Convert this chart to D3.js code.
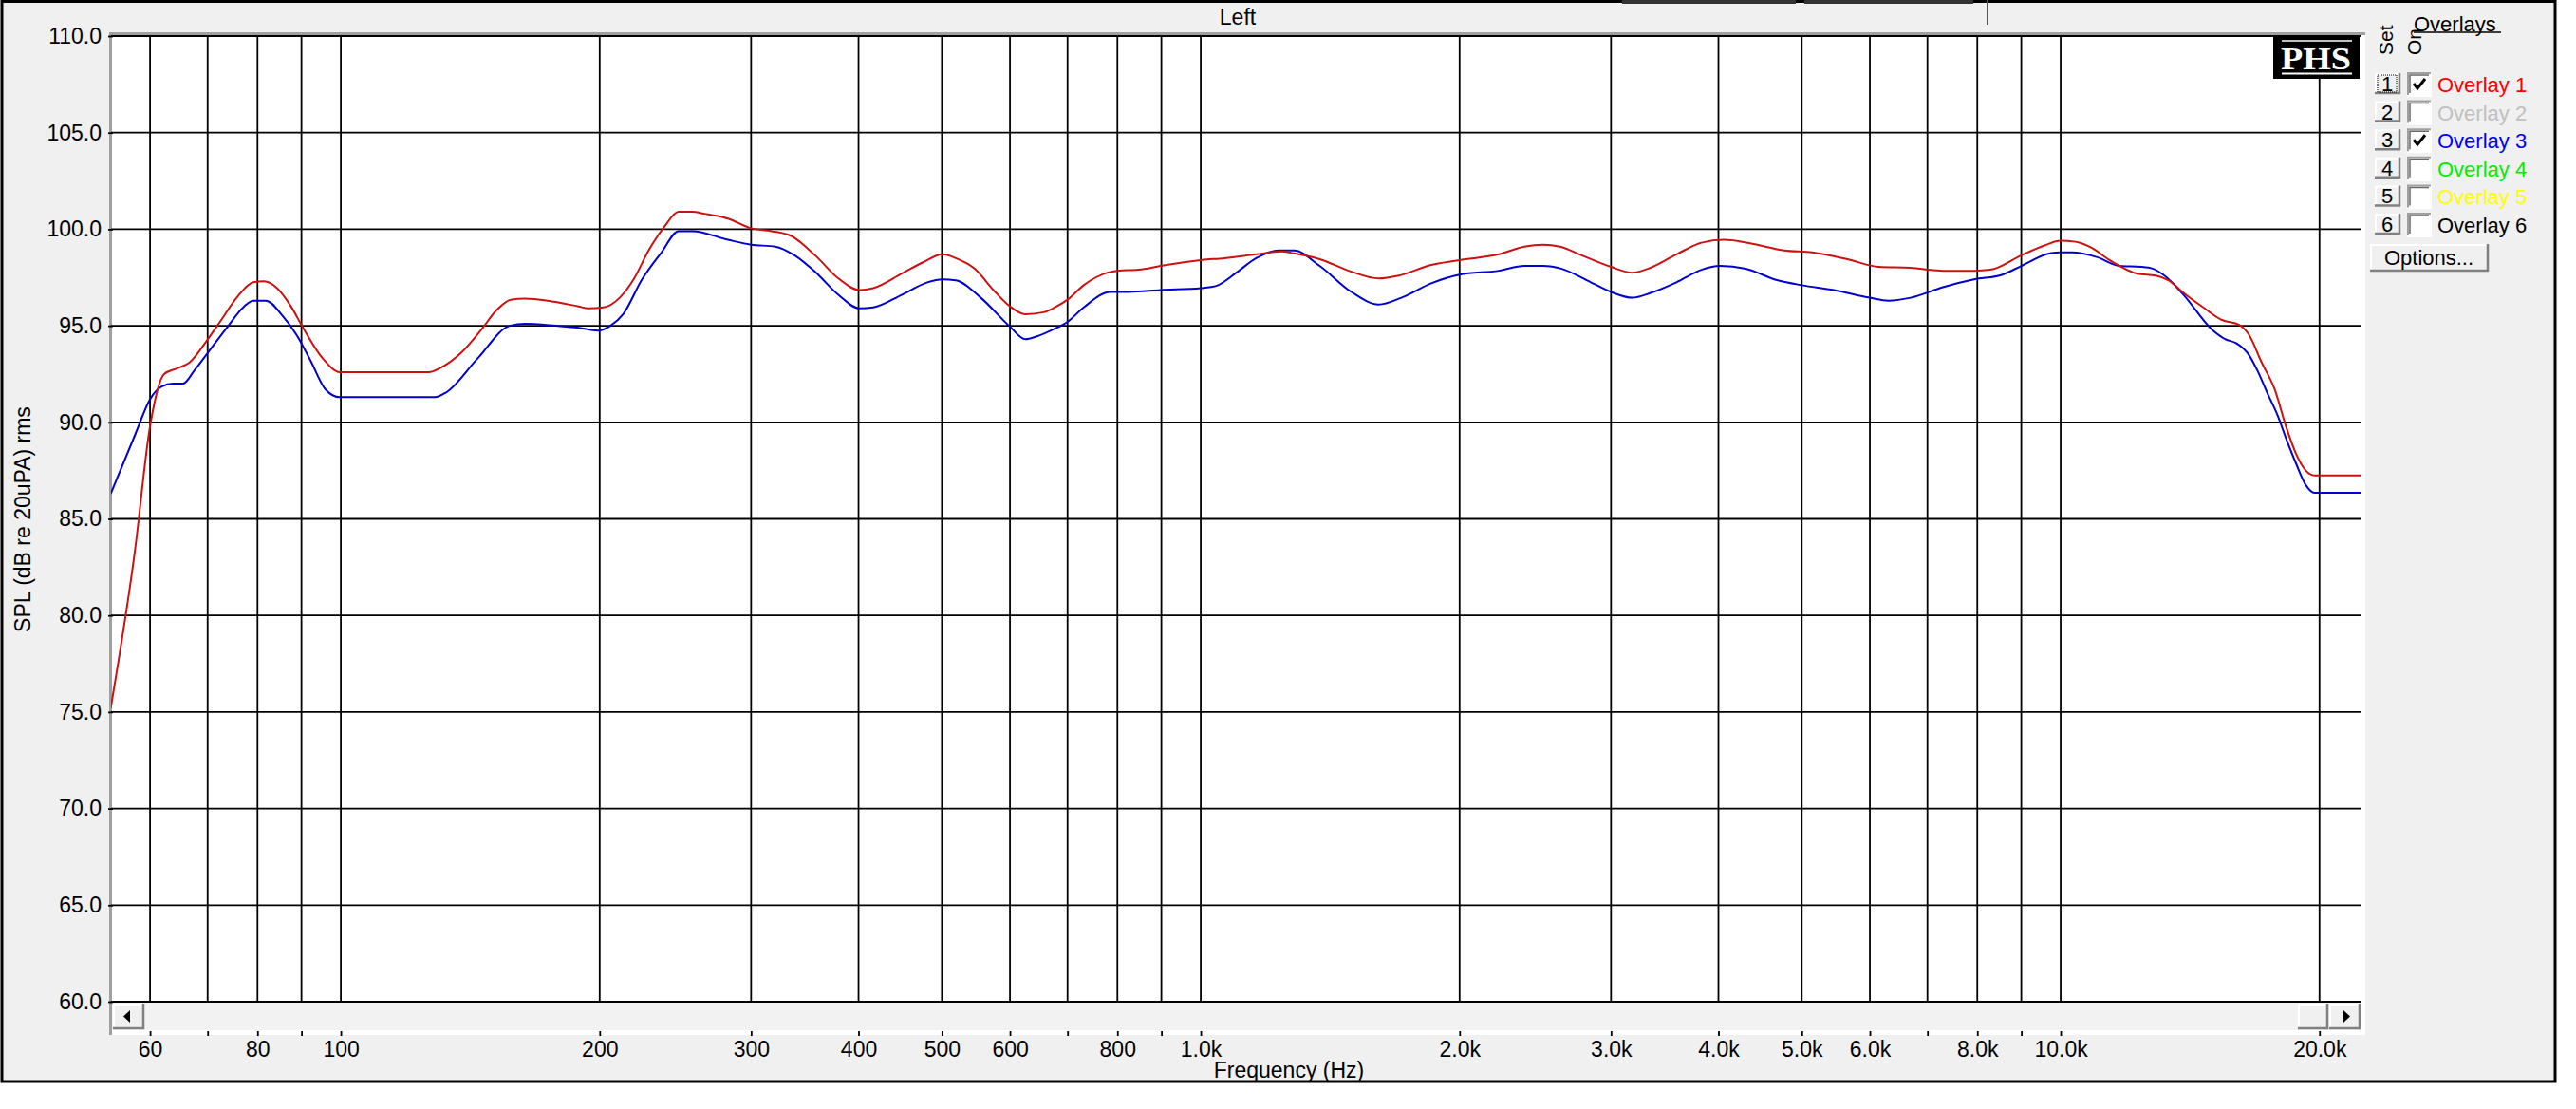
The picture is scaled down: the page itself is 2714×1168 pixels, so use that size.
<!DOCTYPE html>
<html>
<head>
<meta charset="utf-8">
<script src="https://cdn.jsdelivr.net/npm/d3@7/dist/d3.min.js"></script>
<style>
  html, body { margin: 0; padding: 0; background: #ffffff; }
  svg text { font-family: "Liberation Sans", Arial, sans-serif; }
</style>
</head>
<body>
<div id="chart"></div>
<script>
// Overlay 1 (red) - frequency in Hz and SPL in dB
const redFreq = [54, 57.6, 60, 62.3, 64.6, 66.7, 69.9, 72.6, 75.8, 79.1, 81.4, 84.3, 87.6, 90.1, 95.3, 99.7,
    126.7, 130.3, 138.4, 145.7, 151.7, 157.6, 163.7, 174, 189, 194, 202, 211, 219, 228, 238, 247, 256, 265,
    282, 300, 317, 334, 357, 379, 401, 416, 449, 476, 501, 519, 546, 574, 600, 625, 657, 673, 700, 731, 779,
    800, 847, 898, 1000, 1066, 1160, 1241, 1284, 1375, 1497, 1610, 1700, 1854, 2000, 2222, 2379, 2500, 2617,
    2772, 3000, 3175, 3310, 3575, 3822, 4058, 4381, 4768, 5143, 5647, 6145, 6690, 7296, 7930, 8280, 9000,
    9560, 10000, 10400, 10850, 11400, 12280, 12900, 13360, 13900, 14650, 15400, 16130, 16550, 17130, 17740,
    18310, 18770, 19280, 19730, 22400];
const redSpl = [75.2, 83.3, 89.8, 92.5, 92.8, 93.1, 94.25, 95.3, 96.5, 97.25, 97.3, 96.95, 95.97, 95.0, 93.3, 92.6,
    92.6, 92.8, 93.65, 94.8, 95.8, 96.35, 96.4, 96.3, 96.0, 95.9, 95.95, 96.45, 97.4, 98.9, 100.15, 100.9, 100.9, 100.8,
    100.55, 100.05, 99.9, 99.65, 98.6, 97.45, 96.85, 96.95, 97.7, 98.3, 98.7, 98.5, 97.95, 96.85, 96.0, 95.6, 95.7, 95.9, 96.35, 97.1, 97.75,
    97.85, 97.9, 98.1, 98.4, 98.5, 98.7, 98.85, 98.75, 98.45, 97.8, 97.45, 97.6, 98.15, 98.4, 98.7, 99.1, 99.2, 99.1,
    98.65, 98.05, 97.75, 97.95, 98.7, 99.3, 99.45, 99.25, 98.9, 98.8, 98.45, 98.05, 98.0, 97.85, 97.85, 97.9, 98.65,
    99.15, 99.4, 99.35, 99.05, 98.4, 97.7, 97.6, 97.35, 96.7, 95.95, 95.3, 95.05, 94.55, 93.1, 91.7,
    89.7, 88.4, 87.5, 87.25, 87.25];

// Overlay 3 (blue)
const blueFreq = [54, 57.7, 60, 61.9, 63.8, 65.5, 67.6, 69.9, 74, 77.2, 79.1, 81.8, 85.6, 88.9, 92.2, 96, 99.7,
    128.6, 132.6, 144.2, 157.2, 163.7, 178, 189, 199, 205.8, 213, 224, 236, 247, 256.5, 282, 300, 320, 337,
    357, 379, 401, 416, 449, 481, 501, 519, 555, 600, 625, 645, 673, 700, 731, 785, 825, 898, 1000, 1040,
    1100, 1160, 1233, 1284, 1375, 1497, 1610, 1711, 1854, 2000, 2222, 2379, 2500, 2630, 2814, 3000, 3175,
    3335, 3575, 3822, 4017, 4303, 4690, 5000, 5450, 6000, 6305, 6690, 7296, 7930, 8560, 9000, 9720, 10000,
    10300, 11030, 11700, 12410, 12810, 13160, 13900, 15000, 15550, 16000, 16550, 16950, 17400, 17880, 18310,
    18770, 19280, 19730, 22400];
const blueSpl = [86.3, 89.4, 91.2, 91.85, 92.0, 92.0, 92.7, 93.55, 95.0, 96.0, 96.3, 96.3, 95.5, 94.5, 93.2, 91.7, 91.3,
    91.3, 91.55, 93.3, 95.0, 95.1, 95.0, 94.9, 94.75, 95.0, 95.6, 97.4, 98.8, 99.9, 99.9, 99.45, 99.2, 99.1, 98.65,
    97.75, 96.6, 95.9, 95.95, 96.6, 97.25, 97.4, 97.35, 96.45, 94.95, 94.3, 94.45, 94.8, 95.2, 95.95, 96.75, 96.75, 96.85, 96.95, 97.05,
    97.75, 98.5, 98.9, 98.9, 98.1, 96.75, 96.1, 96.45, 97.2, 97.65, 97.85, 98.1, 98.1, 97.95, 97.35, 96.75, 96.45,
    96.7, 97.25, 97.9, 98.1, 97.95, 97.35, 97.1, 96.85, 96.45, 96.3, 96.45, 97.0, 97.4, 97.65, 98.1, 98.75, 98.8,
    98.8, 98.55, 98.1, 98.05, 97.95, 97.65, 96.6, 94.8, 94.3, 94.1, 93.5, 92.65, 91.5, 90.35, 89.1,
    87.9, 86.75, 86.35, 86.35];

// Grid and tick labels
const gridFreqs = [60, 70, 80, 90, 100, 200, 300, 400, 500, 600, 700, 800, 900,
    1000, 2000, 3000, 4000, 5000, 6000, 7000, 8000, 9000, 10000, 20000];
const xLabelFreqs = [60, 80, 100, 200, 300, 400, 500, 600, 800, 1000, 2000, 3000, 4000, 5000, 6000, 8000, 10000, 20000];
const xLabels = ["60", "80", "100", "200", "300", "400", "500", "600", "800", "1.0k", "2.0k", "3.0k",
    "4.0k", "5.0k", "6.0k", "8.0k", "10.0k", "20.0k"];
const yTicks = [60, 65, 70, 75, 80, 85, 90, 95, 100, 105, 110];

const overlayNames = ["Overlay 1", "Overlay 2", "Overlay 3", "Overlay 4", "Overlay 5", "Overlay 6"];
const overlayColors = ["#ff0000", "#c0c0c0", "#0000ff", "#00ee00", "#ffff00", "#000000"];
const overlayOn = [true, false, true, false, false, false];

function drawChart() {
    const W = 2714, H = 1168;
    const plot = { left: 117, right: 2488, top: 38, bottom: 1055 };
    const fontSize = 23;

    const svg = d3.select("#chart")
        .append("svg")
        .attr("width", W)
        .attr("height", H);

    // window frame
    svg.append("rect")
        .attr("x", 2).attr("y", 1.5)
        .attr("width", 2690).attr("height", 1137.5)
        .attr("fill", "#f0f0f0")
        .attr("stroke", "#000").attr("stroke-width", 3);

    // cut off controls at the top edge
    svg.append("line").attr("x1", 1709).attr("x2", 1892).attr("y1", 2).attr("y2", 2)
        .attr("stroke", "#333").attr("stroke-width", 4);
    svg.append("line").attr("x1", 1901).attr("x2", 2079).attr("y1", 2).attr("y2", 2)
        .attr("stroke", "#333").attr("stroke-width", 4);
    svg.append("line").attr("x1", 2094).attr("x2", 2094).attr("y1", 0).attr("y2", 26)
        .attr("stroke", "#555").attr("stroke-width", 2);

    // title
    svg.append("text")
        .attr("x", 1304).attr("y", 18)
        .attr("dy", "0.35em")
        .attr("text-anchor", "middle")
        .style("font-size", fontSize + "px")
        .text("Left");

    // plot panel (white) with sunken border
    svg.append("rect")
        .attr("x", 115).attr("y", 34)
        .attr("width", 2492 - 115).attr("height", 1090 - 34)
        .attr("fill", "#ffffff");
    svg.append("line").attr("x1", 115).attr("x2", 2492).attr("y1", 35.5).attr("y2", 35.5)
        .attr("stroke", "#a0a0a0").attr("stroke-width", 3);
    svg.append("line").attr("x1", 116.5).attr("x2", 116.5).attr("y1", 34).attr("y2", 1090)
        .attr("stroke", "#a0a0a0").attr("stroke-width", 3);

    const x = d3.scaleLog()
        .domain([54.05, 22380])
        .range([plot.left, plot.right]);

    const y = d3.scaleLinear()
        .domain([60, 110])
        .range([plot.bottom, plot.top]);

    // grid
    const grid = svg.append("g").attr("stroke", "#000").attr("stroke-width", 1.8);
    grid.selectAll(".hgrid")
        .data(yTicks)
        .enter()
        .append("line")
        .attr("class", "hgrid")
        .attr("x1", plot.left).attr("x2", plot.right)
        .attr("y1", d => y(d)).attr("y2", d => y(d));
    grid.selectAll(".vgrid")
        .data(gridFreqs)
        .enter()
        .append("line")
        .attr("class", "vgrid")
        .attr("x1", d => x(d)).attr("x2", d => x(d))
        .attr("y1", plot.top).attr("y2", plot.bottom);

    // curves
    svg.append("clipPath").attr("id", "plotClip")
        .append("rect")
        .attr("x", plot.left).attr("y", plot.top)
        .attr("width", plot.right - plot.left).attr("height", plot.bottom - plot.top);

    const line = d3.line()
        .x(d => x(d[0]))
        .y(d => y(d[1]))
        .curve(d3.curveMonotoneX);

    svg.append("path")
        .datum(d3.zip(blueFreq, blueSpl))
        .attr("clip-path", "url(#plotClip)")
        .attr("fill", "none")
        .attr("stroke", "#0000cc")
        .attr("stroke-width", 2)
        .attr("d", line);

    svg.append("path")
        .datum(d3.zip(redFreq, redSpl))
        .attr("clip-path", "url(#plotClip)")
        .attr("fill", "none")
        .attr("stroke", "#cc1111")
        .attr("stroke-width", 2)
        .attr("d", line);

    // PHS logo
    const logo = svg.append("g");
    logo.append("rect")
        .attr("x", 2395).attr("y", 38)
        .attr("width", 91).attr("height", 45)
        .attr("fill", "#000");
    logo.append("line").attr("x1", 2404).attr("x2", 2478).attr("y1", 43).attr("y2", 43)
        .attr("stroke", "#fff").attr("stroke-width", 1.5);
    logo.append("line").attr("x1", 2404).attr("x2", 2478).attr("y1", 77.5).attr("y2", 77.5)
        .attr("stroke", "#fff").attr("stroke-width", 2);
    logo.append("text")
        .attr("x", 2403).attr("y", 73)
        .attr("textLength", 74)
        .attr("lengthAdjust", "spacingAndGlyphs")
        .style("font-family", "'Liberation Serif', 'DejaVu Serif', serif")
        .style("font-weight", "bold")
        .style("font-size", "33px")
        .attr("fill", "#fff")
        .text("PHS");

    // scrollbar
    const sb = svg.append("g");
    sb.append("rect")
        .attr("x", plot.left + 1).attr("y", 1056)
        .attr("width", plot.right - plot.left - 1).attr("height", 29)
        .attr("fill", "#f2f2f2");
    drawButton(sb, 119, 1057, 33, 27);
    sb.append("path")
        .attr("d", "M 130 1070.5 L 137 1064 L 137 1077 Z")
        .attr("fill", "#000");
    drawButton(sb, 2421, 1057, 32, 27);
    drawButton(sb, 2454, 1057, 33, 27);
    sb.append("path")
        .attr("d", "M 2476 1070.5 L 2469 1064 L 2469 1077 Z")
        .attr("fill", "#000");

    // x axis ticks and labels
    const labelMap = new Map(d3.zip(xLabelFreqs, xLabels));
    const xAxis = svg.append("g")
        .attr("transform", "translate(0,1086)")
        .call(d3.axisBottom(x)
            .tickValues(gridFreqs)
            .tickSize(5)
            .tickPadding(6)
            .tickFormat(d => labelMap.get(d) || ""));
    xAxis.select(".domain").remove();
    xAxis.selectAll(".tick line").attr("stroke", "#000").attr("stroke-width", 1.8);
    xAxis.selectAll(".tick text")
        .attr("fill", "#000")
        .style("font-size", fontSize + "px");

    svg.append("text")
        .attr("x", 1358).attr("y", 1127)
        .attr("dy", "0.35em")
        .attr("text-anchor", "middle")
        .style("font-size", fontSize + "px")
        .text("Frequency (Hz)");

    // y axis
    const yAxis = svg.append("g")
        .attr("transform", `translate(${plot.left + 2},0)`)
        .call(d3.axisLeft(y)
            .tickValues(yTicks)
            .tickSize(5)
            .tickPadding(7)
            .tickFormat(d3.format(".1f")));
    yAxis.select(".domain").remove();
    yAxis.selectAll(".tick line").attr("stroke", "#000").attr("stroke-width", 1.8);
    yAxis.selectAll(".tick text")
        .attr("fill", "#000")
        .style("font-size", fontSize + "px");

    svg.append("text")
        .attr("transform", "translate(24,547) rotate(-90)")
        .attr("dy", "0.35em")
        .attr("text-anchor", "middle")
        .style("font-size", fontSize + "px")
        .text("SPL (dB re 20uPA) rms");

    drawOverlayPanel(svg, fontSize);
}

// raised windows style button
function drawButton(g, bx, by, bw, bh) {
    g.append("rect")
        .attr("x", bx).attr("y", by)
        .attr("width", bw).attr("height", bh)
        .attr("fill", "#f0f0f0");
    g.append("path")
        .attr("d", `M ${bx + 1} ${by + bh - 1} L ${bx + 1} ${by + 1} L ${bx + bw - 1} ${by + 1}`)
        .attr("fill", "none").attr("stroke", "#ffffff").attr("stroke-width", 2);
    g.append("path")
        .attr("d", `M ${bx} ${by + bh - 1} L ${bx + bw - 1} ${by + bh - 1} L ${bx + bw - 1} ${by}`)
        .attr("fill", "none").attr("stroke", "#808080").attr("stroke-width", 2.5);
}

function drawOverlayPanel(svg, fontSize) {
    const panel = svg.append("g");

    panel.append("text")
        .attr("x", 2543).attr("y", 25)
        .attr("dy", "0.35em")
        .style("font-size", "22px")
        .text("Overlays");
    panel.append("line")
        .attr("x1", 2543).attr("x2", 2635).attr("y1", 34).attr("y2", 34)
        .attr("stroke", "#000").attr("stroke-width", 1.5);

    panel.append("text")
        .attr("transform", "translate(2514,58) rotate(-90)")
        .attr("dy", "0.35em")
        .style("font-size", "21px")
        .text("Set");
    panel.append("text")
        .attr("transform", "translate(2544,58) rotate(-90)")
        .attr("dy", "0.35em")
        .style("font-size", "21px")
        .text("On");

    const rowTop = 77, rowStep = 29.6;
    overlayNames.forEach((name, i) => {
        const ty = rowTop + i * rowStep;
        drawButton(panel, 2502, ty, 27, 22);
        panel.append("text")
            .attr("x", 2515).attr("y", ty + 11)
            .attr("dy", "0.36em")
            .attr("text-anchor", "middle")
            .style("font-size", "22px")
            .text(i + 1);
        if (i === 0) {
            panel.append("rect")
                .attr("x", 2505).attr("y", ty + 2)
                .attr("width", 20).attr("height", 18)
                .attr("fill", "none")
                .attr("stroke", "#000").attr("stroke-width", 1)
                .attr("stroke-dasharray", "1,1");
        }

        // checkbox
        panel.append("rect")
            .attr("x", 2536).attr("y", ty - 1)
            .attr("width", 26).attr("height", 26)
            .attr("fill", "#ffffff");
        panel.append("path")
            .attr("d", `M 2537 ${ty + 23} L 2537 ${ty} L 2561 ${ty}`)
            .attr("fill", "none").attr("stroke", "#a0a0a0").attr("stroke-width", 2);
        panel.append("path")
            .attr("d", `M 2539 ${ty + 21} L 2539 ${ty + 2} L 2559 ${ty + 2}`)
            .attr("fill", "none").attr("stroke", "#696969").attr("stroke-width", 1.5);
        if (overlayOn[i]) {
            panel.append("path")
                .attr("d", `M 2543 ${ty + 11} L 2547 ${ty + 16} L 2555 ${ty + 6}`)
                .attr("fill", "none").attr("stroke", "#000").attr("stroke-width", 3);
        }

        panel.append("text")
            .attr("x", 2568).attr("y", ty + 12)
            .attr("dy", "0.36em")
            .attr("fill", overlayColors[i])
            .style("font-size", "22px")
            .text(name);
    });

    drawButton(panel, 2497, 257, 125, 29);
    panel.append("text")
        .attr("x", 2559).attr("y", 271)
        .attr("dy", "0.36em")
        .attr("text-anchor", "middle")
        .style("font-size", "22px")
        .text("Options...");
}

drawChart();
</script>
</body>
</html>
